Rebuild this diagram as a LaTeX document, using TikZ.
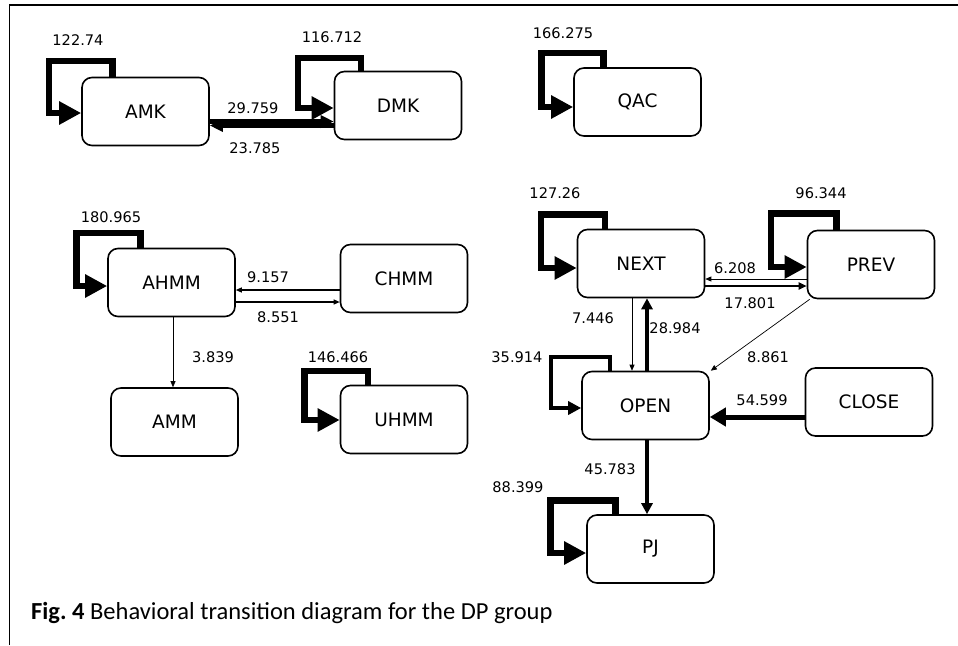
\documentclass[tikz,border=0pt]{standalone}
\usepackage{fontspec}
\setmainfont{DejaVu Sans}
\newfontfamily\captext{Carlito}
\usetikzlibrary{arrows.meta}

\tikzset{
  state/.style={draw, line width=1.6pt, rounded corners=10pt, minimum width=127pt,
    minimum height=68pt, inner sep=0pt, font=\fontsize{18.5}{20}\selectfont},
  num/.style={font=\fontsize{14.6}{16}\selectfont, inner sep=0pt},
  bigloop/.style={line width=6.5pt, -{Triangle[length=22pt,width=22pt]}},
  midloop/.style={line width=4pt, -{Triangle[length=13pt,width=13pt]}},
  heavy/.style={line width=5pt, -{Triangle[length=16pt,width=18pt]}},
  pair/.style={line width=4.5pt, -{Triangle[length=13pt,width=12pt]}},
  medium/.style={line width=3.2pt, -{Triangle[length=11pt,width=11pt]}},
  light/.style={line width=1.8pt, -{Triangle[length=8pt,width=7pt]}},
  thin/.style={line width=1.1pt, -{Triangle[length=6pt,width=5pt]}},
  hair/.style={line width=0.7pt, -{Triangle[length=6pt,width=5pt]}},
}

\begin{document}
\begin{tikzpicture}[x=1pt, y=-1pt]
\useasboundingbox (0,0) rectangle (958,645);

% open frame: top and left rules
\draw[line width=1.5pt] (9.5,645) -- (9.5,5) -- (958,5);

% states
\node[state] (AMK)   at (145.5,111.5) {AMK};
\node[state] (DMK)   at (398,105.5)   {DMK};
\node[state] (QAC)   at (637.5,102)   {QAC};
\node[state] (AHMM)  at (171.5,282.5) {AHMM};
\node[state] (CHMM)  at (404,278.5)   {CHMM};
\node[state] (AMM)   at (174.5,422)   {AMM};
\node[state] (UHMM)  at (404,419.5)   {UHMM};
\node[state] (NEXT)  at (641,263.5)   {NEXT};
\node[state] (PREV)  at (871,264.5)   {PREV};
\node[state] (OPEN)  at (645.5,405.5) {OPEN};
\node[state] (CLOSE) at (869,402)     {CLOSE};
\node[state] (PJ)    at (650.5,549)   {PJ};

% self transitions
\draw[bigloop] ([xshift=31.5pt]AMK.north west)  |- ++(-63.5,-15.5) |- ([yshift=-1.5pt]AMK.west);
\draw[bigloop] ([xshift=27.5pt]DMK.north west)  |- ++(-63,-12.5)   |- ([yshift=-2.5pt]DMK.west);
\draw[bigloop] ([xshift=30.5pt]QAC.north west)  |- ++(-62,-14)     |- ([yshift=-5pt]QAC.west);
\draw[bigloop] ([xshift=33.5pt]AHMM.north west) |- ++(-64,-14.5)   |- ([yshift=-3.5pt]AHMM.west);
\draw[bigloop] ([xshift=28.5pt]UHMM.north west) |- ++(-63.5,-13.5) |- ([yshift=-0.5pt]UHMM.west);
\draw[bigloop] ([xshift=28.5pt]NEXT.north west) |- ++(-64,-14)     |- ([yshift=-4.5pt]NEXT.west);
\draw[bigloop] ([xshift=30pt]PREV.north west)   |- ++(-65.5,-16)   |- ([yshift=-2.5pt]PREV.west);
\draw[midloop] ([xshift=28.5pt]OPEN.north west) |- ++(-58.5,-14)   |- ([yshift=-2.5pt]OPEN.west);
\draw[bigloop] ([xshift=29.5pt]PJ.north west)   |- ++(-65,-13.5)   |- ([yshift=-4pt]PJ.west);

% transitions between states
\draw[pair]   ([yshift=-10pt]AMK.east)    -- ([yshift=-16pt]DMK.west);
\draw[pair]   ([yshift=-20pt]DMK.west)    -- ([yshift=-14pt]AMK.east);
\draw[thin]   ([yshift=-11.5pt]CHMM.west) -- ([yshift=-7.5pt]AHMM.east);
\draw[thin]   ([yshift=-19.5pt]AHMM.east) -- ([yshift=-23.5pt]CHMM.west);
\draw[hair]   ([xshift=1.5pt]AHMM.south)  -- ([xshift=-1.5pt]AMM.north);
\draw[hair]   ([yshift=-14.5pt]PREV.west) -- ([yshift=-15.5pt]NEXT.east);
\draw[light]  ([yshift=-22.5pt]NEXT.east) -- ([yshift=-21.5pt]PREV.west);
\draw[hair]   ([xshift=-9pt]NEXT.south)   -- ([xshift=-13.5pt]OPEN.north);
\draw[medium] ([xshift=1.5pt]OPEN.north)  -- ([xshift=6pt]NEXT.south);
\draw[hair]   ([xshift=3pt]PREV.south west) -- ([xshift=1pt]OPEN.north east);
\draw[heavy]  ([yshift=-15pt]CLOSE.west)  -- ([yshift=-11.5pt]OPEN.east);
\draw[medium] ([xshift=1.5pt]OPEN.south)  -- ([xshift=-3.5pt]PJ.north);

% transition weights
\node[num] (w1)  at (78,40)   {122.74};
\node[num] (w2)  at (332,37)  {116.712};
\node[num] (w3)  at (563,33)  {166.275};
\node[num] (w4)  at (253,108) {29.759};
\node[num] (w5)  at (255,148) {23.785};
\node[num] (w6)  at (111,217) {180.965};
\node[num] (w7)  at (268,277) {9.157};
\node[num] (w8)  at (278,317) {8.551};
\node[num] (w9)  at (213,357) {3.839};
\node[num] (w10) at (338,357) {146.466};
\node[num] (w11) at (555,193) {127.26};
\node[num] (w12) at (821,193) {96.344};
\node[num] (w13) at (735,268) {6.208};
\node[num] (w14) at (750,303) {17.801};
\node[num] (w15) at (593,318) {7.446};
\node[num] (w16) at (675,328) {28.984};
\node[num] (w17) at (517,357) {35.914};
\node[num] (w18) at (768,357) {8.861};
\node[num] (w19) at (762,400) {54.599};
\node[num] (w20) at (610,469) {45.783};
\node[num] (w21) at (518,487) {88.399};

% caption
\node[anchor=west, inner sep=0pt, font=\captext\fontsize{24.5}{28}\selectfont] (cap) at (31,613)
  {\textbf{Fig.~4} Behavioral transition diagram for the DP group};
\end{tikzpicture}
\end{document}
